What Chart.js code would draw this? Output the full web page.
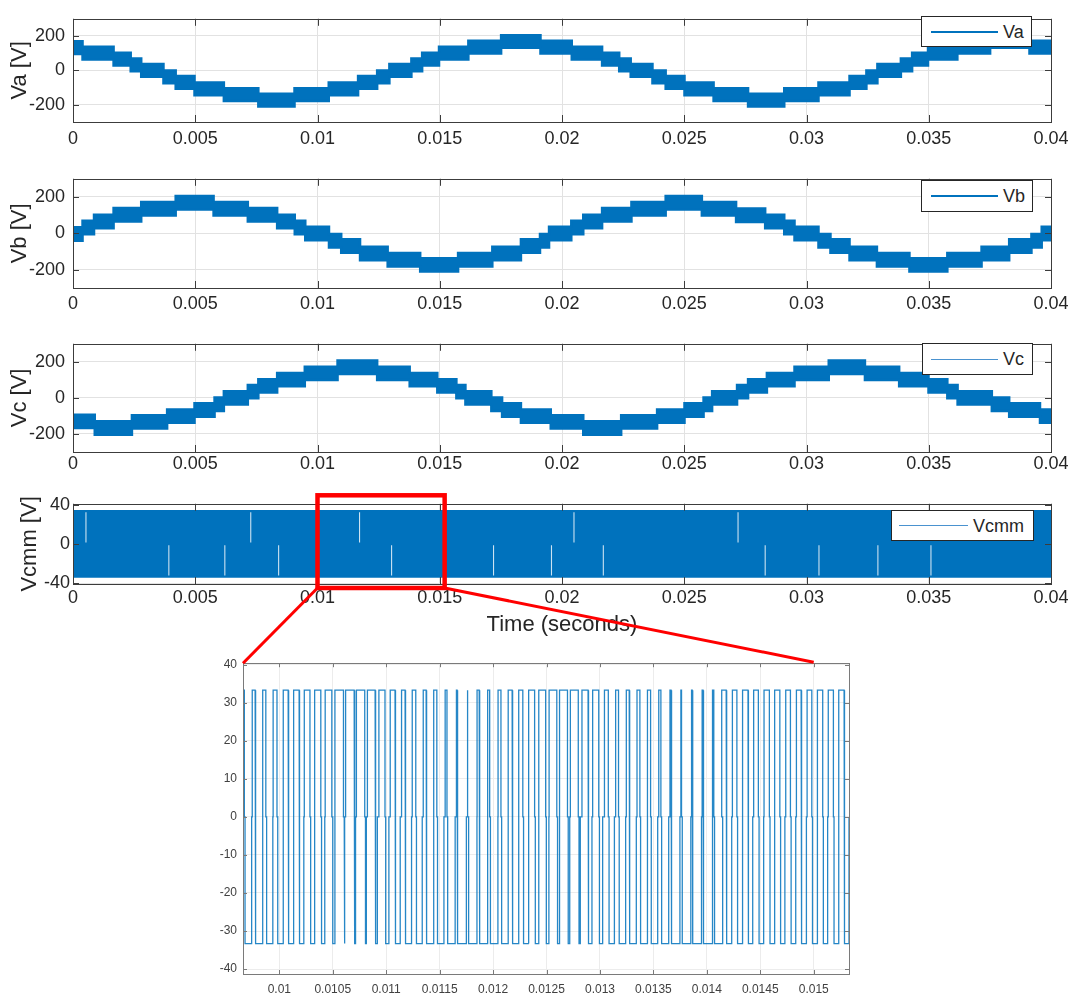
<!DOCTYPE html>
<html>
<head>
<meta charset="utf-8">
<title>Phase voltages and common-mode voltage</title>
<script src="https://cdn.jsdelivr.net/npm/chart.js@4.4.1/dist/chart.umd.min.js"></script>
<style>
  body { margin: 0; background: #fff; font-family: 'Liberation Sans', Arial, sans-serif; }
  #page { position: relative; width: 1079px; height: 997px; overflow: hidden; background: #fff; }
  canvas { position: absolute; }
  .legend { position: absolute; background: #fff; border: 1px solid #262626; box-sizing: border-box; font-size: 18px; color: #262626; }
  .legend .swatch { position: absolute; height: 0; border-top: 2px solid #0072bd; }
  .legend .swatch.thin { border-top: 1px solid #4a92cf; }
  .legend .label { position: absolute; line-height: 18px; }
  #overlay { position: absolute; left: 0; top: 0; pointer-events: none; }
</style>
</head>
<body>
<div id="page">
  <canvas id="vaChart" width="1079" height="150" style="left:0;top:0"></canvas>
  <canvas id="vbChart" width="1079" height="156" style="left:0;top:160px"></canvas>
  <canvas id="vcChart" width="1079" height="155" style="left:0;top:325px"></canvas>
  <canvas id="cmmChart" width="1079" height="150" style="left:0;top:490px"></canvas>
  <canvas id="zoomChart" width="700" height="347" style="left:190px;top:650px"></canvas>

  <div class="legend" style="left:921px;top:16px;width:111px;height:31px">
    <div class="swatch" style="left:9px;top:14px;width:67px"></div>
    <div class="label" style="left:81px;top:6px">Va</div>
  </div>
  <div class="legend" style="left:921px;top:180px;width:112px;height:32px">
    <div class="swatch" style="left:9px;top:14px;width:67px"></div>
    <div class="label" style="left:81px;top:6px">Vb</div>
  </div>
  <div class="legend" style="left:922px;top:343px;width:111px;height:32px">
    <div class="swatch thin" style="left:8px;top:15px;width:67px"></div>
    <div class="label" style="left:80px;top:6px">Vc</div>
  </div>
  <div class="legend" style="left:891px;top:510px;width:143px;height:31px">
    <div class="swatch thin" style="left:7px;top:14px;width:69px"></div>
    <div class="label" style="left:81px;top:6px">Vcmm</div>
  </div>

  <svg id="overlay" width="1079" height="997"></svg>
</div>

<script>
// axis ticks
const timeTicks = [0, 0.005, 0.01, 0.015, 0.02, 0.025, 0.03, 0.035, 0.04];
const phaseTicks = [-200, 0, 200];
const cmmTicks = [-40, -20, 0, 20, 40];
const zoomTimeTicks = [0.01, 0.0105, 0.011, 0.0115, 0.012, 0.0125, 0.013, 0.0135, 0.014, 0.0145, 0.015];
const zoomVoltTicks = [-40, -30, -20, -10, 0, 10, 20, 30, 40];

// phase voltages: start time of each step [s] and mean level of the step [V]
const vaTimes = [0, 0.00039, 0.00166, 0.00236, 0.00279, 0.0037, 0.0042, 0.00497, 0.00617, 0.00758,
  0.00906, 0.01046, 0.01166, 0.01244, 0.01294, 0.01384, 0.01428, 0.01497, 0.01617, 0.01751,
  0.01912, 0.0204, 0.02164, 0.02234, 0.02281, 0.0237, 0.02424, 0.02501, 0.0262, 0.02761,
  0.02909, 0.03049, 0.03176, 0.03245, 0.0329, 0.03386, 0.03432, 0.03497, 0.03617, 0.03751, 0.03912];
const vaLevels = [133, 100, 65, 32, 0, -38, -69, -107, -141, -173,
  -141, -107, -69, -38, 0, 32, 65, 100, 135, 168,
  135, 100, 65, 32, 0, -38, -69, -107, -141, -173,
  -141, -107, -69, -38, 0, 32, 65, 100, 135, 168, 135];

const vbTimes = [0, 0.00039, 0.00086, 0.00166, 0.00279, 0.0042, 0.00575, 0.00715, 0.00835, 0.00907,
  0.0095, 0.01047, 0.01097, 0.01174, 0.01287, 0.0142, 0.01575, 0.01715, 0.01832, 0.0191,
  0.01947, 0.02038, 0.02087, 0.02164, 0.02284, 0.02424, 0.02572, 0.02712, 0.02831, 0.02909,
  0.02951, 0.03049, 0.03098, 0.03176, 0.03288, 0.03421, 0.03576, 0.03716, 0.03829, 0.0392, 0.03962];
const vbLevels = [-3, 32, 65, 102, 135, 168, 135, 102, 65, 32,
  0, -40, -69, -110, -145, -173, -145, -110, -69, -40,
  0, 32, 65, 102, 135, 168, 135, 100, 65, 32,
  0, -40, -69, -110, -145, -173, -145, -110, -69, -40, 0];

const vcTimes = [0, 0.00089, 0.00241, 0.00385, 0.00497, 0.00579, 0.00617, 0.00715, 0.00758, 0.00835,
  0.00948, 0.01082, 0.01244, 0.01377, 0.0149, 0.01568, 0.01605, 0.01711, 0.01755, 0.01832,
  0.01954, 0.02087, 0.02242, 0.02389, 0.02501, 0.02579, 0.02614, 0.02716, 0.02761, 0.02838,
  0.02951, 0.03091, 0.03239, 0.03379, 0.03499, 0.03576, 0.03618, 0.03758, 0.03829, 0.03955];
const vcLevels = [-130, -167, -133, -101, -67, -35, 0, 35, 67, 101,
  136, 170, 136, 101, 67, 35, 0, -35, -67, -101,
  -133, -167, -133, -101, -67, -35, 0, 35, 67, 101,
  136, 170, 136, 101, 67, 35, 0, -35, -67, -101];

const rippleHalf = 37;   // half height of the switching band [V]
const simEnd = 0.04;

// common-mode voltage: switching levels and the moments where one half is left empty
const cmmLevel = 33.3;
const cmmGapsHigh = [0.00053, 0.00727, 0.01172, 0.02049, 0.0272];
const cmmGapsLow = [0.00392, 0.00621, 0.00841, 0.01303, 0.0172, 0.01957, 0.02169, 0.02831, 0.03051, 0.03292, 0.03509];

// zoomed window: centre of each +33 V pulse, share of the carrier period at +33 V and at -33 V
const zoomRange = [0.00966, 0.01533];
const zoomBox = [0.01, 0.0152];
const zoomPulseCentres = [0.00966, 0.00976, 0.00986, 0.00996, 0.01006, 0.01016, 0.01026, 0.01036, 0.01046, 0.01056,
  0.01066, 0.01076, 0.01086, 0.01096, 0.01106, 0.01116, 0.01126, 0.01136, 0.01146, 0.01156,
  0.01166, 0.01176, 0.01186, 0.01196, 0.01206, 0.01216, 0.01226, 0.01236, 0.01246, 0.01256,
  0.01266, 0.01276, 0.01286, 0.01296, 0.01306, 0.01316, 0.01326, 0.01336, 0.01346, 0.01356,
  0.01366, 0.01376, 0.01386, 0.01396, 0.01406, 0.01416, 0.01426, 0.01436, 0.01446, 0.01456,
  0.01466, 0.01476, 0.01486, 0.01496, 0.01506, 0.01516, 0.01526];
const zoomHighDuty = [0.25, 0.27, 0.27, 0.36, 0.45, 0.5, 0.53, 0.56, 0.62, 0.8,
  0.8, 0.78, 0.72, 0.57, 0.45, 0.33, 0.33, 0.27, 0.27, 0.17,
  0.06, 0.08, 0.2, 0.16, 0.27, 0.36, 0.36, 0.57, 0.63, 0.72,
  0.72, 0.74, 0.57, 0.57, 0.36, 0.27, 0.27, 0.27, 0.27, 0.2,
  0.1, 0.06, 0.06, 0.08, 0.1, 0.42, 0.42, 0.5, 0.44, 0.5,
  0.46, 0.44, 0.44, 0.44, 0.48, 0.48, 0.48];
const zoomLowDuty = [0.62, 0.6, 0.58, 0.5, 0.42, 0.38, 0.34, 0.3, 0.2, 0.06,
  0.06, 0.08, 0.14, 0.3, 0.42, 0.54, 0.54, 0.6, 0.6, 0.7,
  0.8, 0.78, 0.67, 0.7, 0.6, 0.5, 0.5, 0.3, 0.24, 0.14,
  0.14, 0.12, 0.3, 0.3, 0.5, 0.6, 0.6, 0.6, 0.6, 0.66,
  0.76, 0.8, 0.8, 0.78, 0.76, 0.45, 0.45, 0.38, 0.43, 0.38,
  0.4, 0.43, 0.43, 0.43, 0.4, 0.4, 0.4];

const blue = '#0072bd';
const textColor = '#262626';
const font = "'Liberation Sans', Arial, sans-serif";

// box round the plot area plus inward tick marks, like the original axes
const axesBox = {
  id: 'axesBox',
  afterDraw(chart, args, opts) {
    const { ctx, chartArea: a, scales: { x, y } } = chart;
    ctx.save();
    ctx.strokeStyle = opts.color;
    ctx.lineWidth = 1;
    ctx.beginPath();
    x.ticks.forEach(t => {
      const px = Math.round(x.getPixelForValue(t.value)) + 0.5;
      ctx.moveTo(px, a.bottom); ctx.lineTo(px, a.bottom - opts.xLen);
      ctx.moveTo(px, a.top); ctx.lineTo(px, a.top + opts.xLen);
    });
    y.ticks.forEach(t => {
      const py = Math.round(y.getPixelForValue(t.value)) + 0.5;
      ctx.moveTo(a.left, py); ctx.lineTo(a.left + opts.yLen, py);
      ctx.moveTo(a.right, py); ctx.lineTo(a.right - opts.yLen, py);
    });
    ctx.stroke();
    ctx.strokeRect(Math.round(a.left) + 0.5, Math.round(a.top) + 0.5, Math.round(a.width), Math.round(a.height));
    ctx.restore();
  }
};

function stepPoints(times, levels, offset) {
  const pts = [];
  times.forEach((t, i) => {
    const next = i + 1 < times.length ? times[i + 1] : simEnd;
    pts.push({ x: t, y: levels[i] + offset }, { x: next, y: levels[i] + offset });
  });
  return pts;
}

function bandDatasets(times, levels) {
  return [
    { data: stepPoints(times, levels, rippleHalf), borderColor: blue, borderWidth: 2.5, fill: false },
    { data: stepPoints(times, levels, -rippleHalf), borderColor: blue, borderWidth: 2.5, fill: '-1', backgroundColor: blue }
  ];
}

function makeStrip(id, cfg) {
  return new Chart(document.getElementById(id), {
    type: 'line',
    data: { datasets: cfg.datasets },
    options: {
      responsive: false,
      animation: false,
      devicePixelRatio: 1,
      events: [],
      layout: { padding: { top: cfg.padTop, right: 28, left: 0, bottom: 0 } },
      elements: { point: { radius: 0 }, line: { tension: 0 } },
      plugins: {
        legend: { display: false },
        tooltip: { enabled: false },
        axesBox: { color: '#3c3c3c', xLen: 7, yLen: 6 }
      },
      scales: {
        x: {
          type: 'linear', min: 0, max: simEnd,
          afterBuildTicks: s => { s.ticks = timeTicks.map(v => ({ value: v })); },
          afterFit: s => { s.height = cfg.xHeight; },
          grid: { color: '#e2e2e2', drawTicks: false },
          border: { display: false },
          ticks: {
            autoSkip: false, maxRotation: 0, padding: cfg.xPad, color: textColor,
            font: { family: font, size: 18 },
            callback: v => String(+v.toFixed(3))
          },
          title: cfg.xTitle ? {
            display: true, text: cfg.xTitle, color: textColor,
            font: { family: font, size: 22 }, padding: { top: 0, bottom: 2 }
          } : { display: false }
        },
        y: {
          type: 'linear', min: cfg.yMin, max: cfg.yMax,
          afterBuildTicks: s => { s.ticks = cfg.yTicks.map(v => ({ value: v })); },
          afterFit: s => { s.width = 73; },
          grid: { color: '#e2e2e2', drawTicks: false },
          border: { display: false },
          ticks: {
            padding: cfg.yPad, color: textColor,
            font: { family: font, size: 18 },
            callback: v => String(v)
          },
          title: {
            display: true, text: cfg.yTitle, color: textColor,
            font: { family: font, size: 22 }, padding: { top: cfg.yTitlePad, bottom: 0 }
          }
        }
      }
    },
    plugins: [axesBox]
  });
}

makeStrip('vaChart', { datasets: bandDatasets(vaTimes, vaLevels), padTop: 8, xHeight: 28, xPad: 6,
  yMin: -300, yMax: 300, yTicks: phaseTicks, yPad: 8, yTitle: 'Va [V]', yTitlePad: 7 });
makeStrip('vbChart', { datasets: bandDatasets(vbTimes, vbLevels), padTop: 13, xHeight: 28, xPad: 5,
  yMin: -300, yMax: 300, yTicks: phaseTicks, yPad: 8, yTitle: 'Vb [V]', yTitlePad: 7 });
makeStrip('vcChart', { datasets: bandDatasets(vcTimes, vcLevels), padTop: 11, xHeight: 28, xPad: 1,
  yMin: -300, yMax: 300, yTicks: phaseTicks, yPad: 8, yTitle: 'Vc [V]', yTitlePad: 7 });

// common-mode band with the empty stretches shown as white cuts
// (the cuts are dataset 0 so Chart.js paints them last, on top of the band)
const gapPoints = [];
cmmGapsHigh.forEach(t => gapPoints.push({ x: t, y: cmmLevel - 1 }, { x: t, y: 1.5 }, { x: t, y: null }));
cmmGapsLow.forEach(t => gapPoints.push({ x: t, y: -1.5 }, { x: t, y: -cmmLevel + 1 }, { x: t, y: null }));

const cmmChart = makeStrip('cmmChart', {
  datasets: [
    { data: gapPoints, borderColor: 'rgba(255,255,255,0.8)', borderWidth: 1.1, fill: false, spanGaps: false },
    { data: [{ x: 0, y: cmmLevel }, { x: simEnd, y: cmmLevel }], borderColor: blue, borderWidth: 2.5, fill: false },
    { data: [{ x: 0, y: -cmmLevel }, { x: simEnd, y: -cmmLevel }], borderColor: blue, borderWidth: 2.5, fill: '-1', backgroundColor: blue }
  ],
  padTop: 12, xHeight: 56, xPad: 3, xTitle: 'Time (seconds)',
  yMin: -41, yMax: 41, yTicks: cmmTicks, yPad: 3, yTitle: 'Vcmm [V]', yTitlePad: 17
});

// zoomed common-mode waveform built from the pulse table
const zoomPoints = [];
zoomPulseCentres.forEach((c, i) => {
  const period = i + 1 < zoomPulseCentres.length ? zoomPulseCentres[i + 1] - c : c - zoomPulseCentres[i - 1];
  const hi = zoomHighDuty[i] * period / 2;
  const lo = zoomLowDuty[i] * period / 2;
  const mid = c + period / 2;
  zoomPoints.push(
    { x: c - hi, y: 0 }, { x: c - hi, y: cmmLevel }, { x: c + hi, y: cmmLevel }, { x: c + hi, y: 0 },
    { x: mid - lo, y: 0 }, { x: mid - lo, y: -cmmLevel }, { x: mid + lo, y: -cmmLevel }, { x: mid + lo, y: 0 }
  );
});

const zoomChart = new Chart(document.getElementById('zoomChart'), {
  type: 'line',
  data: {
    datasets: [{ data: zoomPoints, borderColor: 'rgba(0,114,189,0.85)', borderWidth: 1.3, fill: false, clip: 0 }]
  },
  options: {
    responsive: false,
    animation: false,
    devicePixelRatio: 1,
    events: [],
    layout: { padding: { top: 11, right: 41, left: 0, bottom: 0 } },
    elements: { point: { radius: 0 }, line: { tension: 0 } },
    plugins: {
      legend: { display: false },
      tooltip: { enabled: false },
      axesBox: { color: '#7a7a7a', xLen: 4, yLen: 4 }
    },
    scales: {
      x: {
        type: 'linear', min: zoomRange[0], max: zoomRange[1],
        afterBuildTicks: s => { s.ticks = zoomTimeTicks.map(v => ({ value: v })); },
        afterFit: s => { s.height = 23; },
        grid: { color: '#ececec', drawTicks: false },
        border: { display: false },
        ticks: {
          autoSkip: false, maxRotation: 0, padding: 8, color: '#404040',
          font: { family: font, size: 12 },
          callback: v => String(+v.toFixed(4))
        }
      },
      y: {
        type: 'linear', min: -41.3, max: 40.4,
        afterBuildTicks: s => { s.ticks = zoomVoltTicks.map(v => ({ value: v })); },
        afterFit: s => { s.width = 53; },
        grid: { color: '#ececec', drawTicks: false },
        border: { display: false },
        ticks: {
          padding: 6, color: '#404040',
          font: { family: font, size: 12 },
          callback: v => String(v)
        }
      }
    }
  },
  plugins: [axesBox]
});

// red box on the common-mode strip and the two lines to the zoomed view
const svg = document.getElementById('overlay');
const ns = 'http://www.w3.org/2000/svg';
function addShape(tag, attrs) {
  const el = document.createElementNS(ns, tag);
  Object.entries(attrs).forEach(([k, v]) => el.setAttribute(k, v));
  svg.appendChild(el);
}
const cmmTop = 490;
const zoomLeft = 190, zoomTop = 650;
const cmmArea = cmmChart.chartArea;
const boxL = cmmChart.scales.x.getPixelForValue(zoomBox[0]);
const boxR = cmmChart.scales.x.getPixelForValue(zoomBox[1]);
const boxT = cmmTop + cmmArea.top - 8.5;
const boxB = cmmTop + cmmArea.bottom + 4;
const zArea = zoomChart.chartArea;
const zLeft = zoomLeft + zArea.left;
const zTop = zoomTop + zArea.top;
const zRight = zoomLeft + zoomChart.scales.x.getPixelForValue(zoomTimeTicks[zoomTimeTicks.length - 1]);

addShape('line', { x1: boxL, y1: boxB, x2: zLeft, y2: zTop, stroke: '#ff0000', 'stroke-width': 3 });
addShape('line', { x1: boxR, y1: boxB, x2: zRight, y2: zTop - 1, stroke: '#ff0000', 'stroke-width': 3 });
addShape('rect', { x: boxL, y: boxT, width: boxR - boxL, height: boxB - boxT, fill: 'none', stroke: '#ff0000', 'stroke-width': 4.5 });
</script>
</body>
</html>
